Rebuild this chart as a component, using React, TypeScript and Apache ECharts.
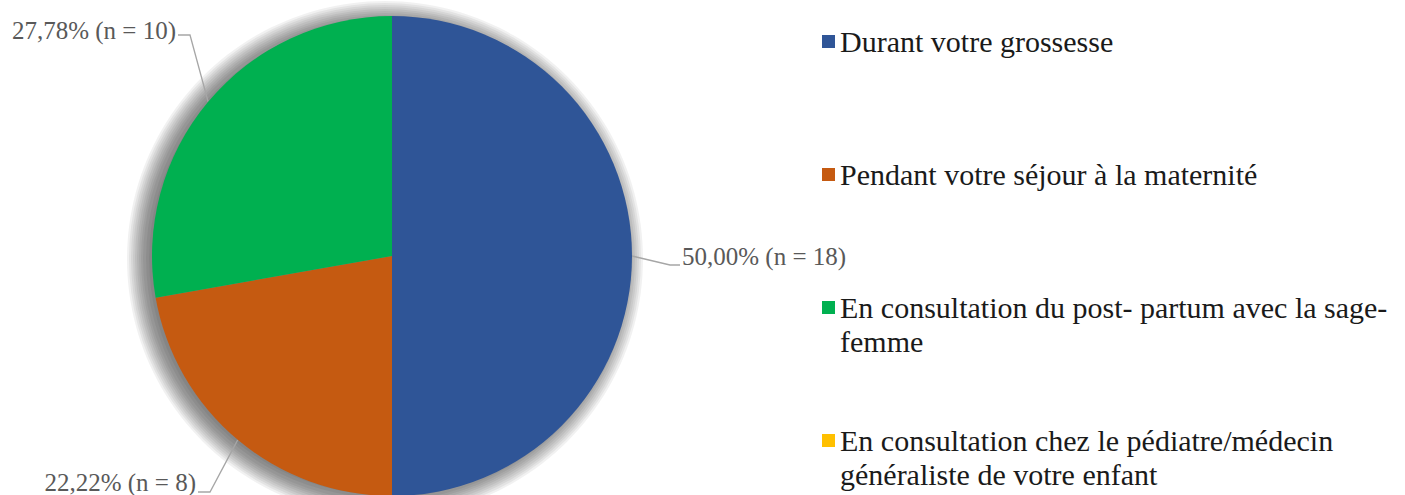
import React, { useEffect, useRef } from "react";
import * as echarts from "echarts";

const categories: string[] = [
  "Durant votre grossesse",
  "Pendant votre séjour à la maternité",
  "En consultation du post- partum avec la sage-femme",
  "En consultation chez le pédiatre/médecin généraliste de votre enfant",
];
const legendTexts: string[] = [
  "Durant votre grossesse",
  "Pendant votre séjour à la maternité",
  "\nEn consultation du post- partum avec la sage-\nfemme",
  "\nEn consultation chez le pédiatre/médecin\ngénéraliste de votre enfant",
];
const counts: number[] = [18, 8, 10, 0];
const colors: string[] = ["#2F5597", "#C55A11", "#00B050", "#FFC000"];

const FONT = "Liberation Serif, Times New Roman, serif";
const CX = 392;
const CY = 256;
const R = 240;
const SDX = -7;
const SDY = 3;
const shadowSteps = [-4, -1, 2, 4, 6, 8, 10, 12, 14, 16, 18];

export default function App() {
  const ref = useRef<HTMLDivElement>(null);
  useEffect(() => {
    if (!ref.current) return;
    const chart = echarts.init(ref.current, null, { renderer: "svg" });
    const total = counts.reduce((a, b) => a + b, 0);
    const fmtPct = (v: number) => ((v / total) * 100).toFixed(2).replace(".", ",");

    const legendTops = [24.5, 157.5, 256.5, 389.5];
    const legends = categories.map((name, i) => ({
      orient: "vertical",
      left: 822,
      top: legendTops[i],
      padding: 0,
      itemWidth: 13,
      itemHeight: 13,
      icon: "rect",
      selectedMode: false,
      data: [name],
      formatter: () => legendTexts[i],
      textStyle: {
        fontFamily: FONT,
        fontSize: 30,
        lineHeight: 34,
        color: "#1a1a1a",
      },
    }));

    const shadowSeries = shadowSteps.map((d) => ({
      type: "pie",
      silent: true,
      z: 1,
      center: [CX + SDX, CY + SDY],
      radius: R + d,
      label: { show: false },
      labelLine: { show: false },
      itemStyle: { color: "rgba(0,0,0,0.055)", borderWidth: 0 },
      data: [{ value: 1, name: "shadow" }],
    }));

    const option: any = {
      animation: false,
      backgroundColor: "#ffffff",
      color: colors,
      legend: legends,
      series: [
        ...shadowSeries,
        {
          type: "pie",
          z: 2,
          center: [CX, CY],
          radius: R,
          startAngle: 90,
          clockwise: true,
          minShowLabelAngle: 1,
          avoidLabelOverlap: false,
          data: categories.map((name, i) => ({
            name,
            value: counts[i],
            itemStyle: { color: colors[i] },
          })),
          label: {
            show: true,
            position: "outside",
            fontFamily: FONT,
            fontSize: 25,
            lineHeight: 26,
            color: "#595959",
            formatter: (p: any) => `${fmtPct(p.value)}% (n = ${p.value})`,
          },
          labelLine: {
            show: true,
            lineStyle: { color: "#A6A6A6", width: 1.3 },
          },
          labelLayout: (params: any) => {
            const pts = params.labelLinePoints;
            const p0 = pts && pts[0] ? pts[0] : [CX, CY];
            if (params.dataIndex === 0) {
              return {
                x: 682,
                y: 256,
                align: "left",
                verticalAlign: "middle",
                labelLinePoints: [p0, [670, 265], [680, 265]],
              };
            }
            if (params.dataIndex === 1) {
              return {
                x: 196,
                y: 482,
                align: "right",
                verticalAlign: "middle",
                labelLinePoints: [p0, [210, 492], [198, 492]],
              };
            }
            if (params.dataIndex === 2) {
              return {
                x: 176,
                y: 30,
                align: "right",
                verticalAlign: "middle",
                labelLinePoints: [p0, [190, 35], [178, 35]],
              };
            }
            return {};
          },
        },
      ],
    };
    chart.setOption(option);
    return () => chart.dispose();
  }, []);

  return (
    <div
      ref={ref}
      style={{ position: "fixed", left: 0, top: 0, width: 1405, height: 495 }}
    />
  );
}
